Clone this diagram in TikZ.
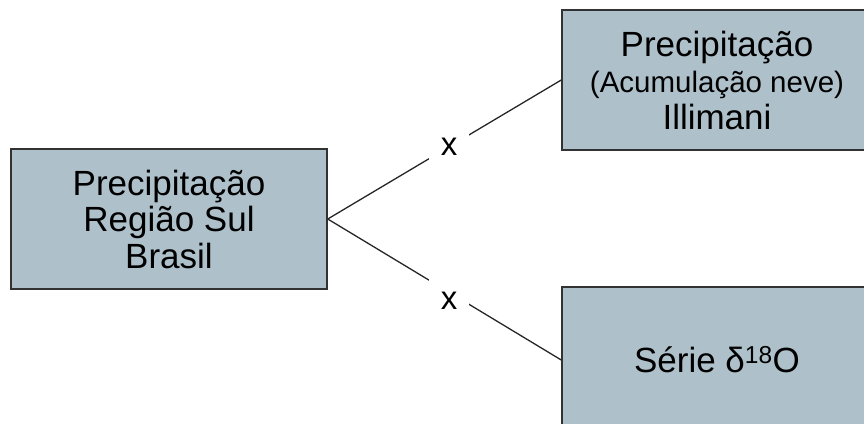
\documentclass[tikz,border=0pt]{standalone}
\usepackage{fontspec}
\setmainfont{Liberation Sans}
\definecolor{boxfill}{RGB}{174,192,202}
\definecolor{boxline}{RGB}{50,50,50}

\begin{document}
\begin{tikzpicture}[x=1pt, y=-1pt,
        caixa/.style={draw=boxline, line width=1.5pt, fill=boxfill, align=center, inner sep=0pt,
            font=\fontsize{35}{36.5}\selectfont},
        ligacao/.style={draw=black!85, line width=1.3pt},
        cruz/.style={fill=white, inner xsep=12pt, inner ysep=14pt, font=\fontsize{33}{33}\selectfont}]
        \useasboundingbox (0, 0) rectangle (864, 423);
        \clip (0, 0) rectangle (864, 423);

        % Left box
        \node[caixa, minimum width=316, minimum height=140] (sul) at (169, 219)
            {Precipitação\\Região Sul\\Brasil};

        % Right boxes (cut by the page edge)
        \node[caixa, minimum width=310, minimum height=140] (illimani) at (717, 80)
            {Precipitação\\{\fontsize{29.5}{29.5}\selectfont (Acumulação neve)}\\Illimani};
        \node[caixa, minimum width=310, minimum height=146] (serie) at (717, 360)
            {Série δ\textsuperscript{18}O};

        % Connectors
        \draw[ligacao] (sul.east) -- node[cruz, pos=0.52] {x} (illimani.west);
        \draw[ligacao] (sul.east) -- node[cruz, pos=0.52, yshift=-8pt] {x} (serie.west);
    \end{tikzpicture}
\end{document}
